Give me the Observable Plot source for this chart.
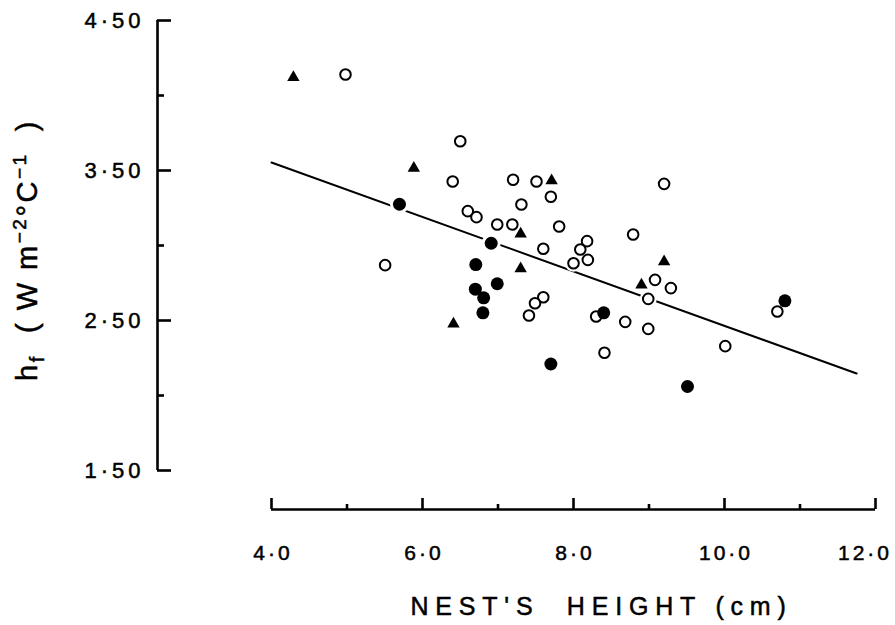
<!DOCTYPE html>
<html><head><meta charset="utf-8">
<script src="https://cdn.jsdelivr.net/npm/d3@7"></script>
<script src="https://cdn.jsdelivr.net/npm/@observablehq/plot@0.6"></script>
<style>
html,body{margin:0;padding:0;background:#fff;overflow:hidden}
svg{display:block}
</style>
</head><body><div id="chart"></div>
<script>
// ---- data ----
const openX = [4.98, 6.50, 6.40, 7.20, 7.51, 7.70, 7.31, 6.60, 6.715, 6.99, 7.19, 7.60, 5.505, 7.60, 7.49, 7.41,
               7.81, 8.18, 8.09, 8.19, 8.00, 8.79, 9.20, 9.08, 9.29, 8.99, 8.30, 8.685, 8.99, 8.41, 10.01, 10.70];
const openY = [4.14, 3.695, 3.427, 3.438, 3.427, 3.325, 3.273, 3.229, 3.189, 3.14, 3.14, 2.978, 2.869, 2.655, 2.615, 2.533,
               3.127, 3.029, 2.973, 2.904, 2.882, 3.073, 3.411, 2.771, 2.716, 2.644, 2.527, 2.491, 2.444, 2.285, 2.329, 2.56];
const filledX = [5.695, 6.91, 6.706, 6.70, 6.99, 6.81, 6.80, 7.70, 8.40, 9.51, 10.80];
const filledY = [3.275, 3.015, 2.873, 2.709, 2.745, 2.651, 2.551, 2.21, 2.551, 2.06, 2.631];
const triX = [4.29, 5.885, 7.71, 7.30, 7.30, 6.41, 9.20, 8.90];
const triY = [4.12, 3.515, 3.433, 3.078, 2.845, 2.478, 2.893, 2.738];
const fitX = [4.0, 11.75];
const fitY = [3.553, 2.147];

const yMajor = [1.5, 2.5, 3.5, 4.5];
const yMinor = [2, 3, 4];
const yTickLabels = ["1\u00B750", "2\u00B750", "3\u00B750", "4\u00B750"];
const xMajor = [4, 6, 8, 10, 12];
const xMinor = [5, 7, 9, 11];
const xTickLabels = ["4\u00B70", "6\u00B70", "8\u00B70", "10\u00B70", "12\u00B70"];
const xLabel = "NEST'S\u00A0\u00A0HEIGHT (cm)";
// y label pieces: normal, subscript, normal, superscript, normal, superscript, normal
const yLabelParts = ["h", "f", "\u00A0\u00A0(\u00A0W\u00A0m", "\u22122", "\u00B0C", "\u22121", "\u00A0\u00A0)"];
const yLabel = yLabelParts.join("");

// ---- layout ----
const W = 895, H = 625;
const mL = 157, mR = 20, mT = 20, mB = 116;
const insL = 114, insB = 39;
const FONT = "Liberation Sans, Arial, sans-serif";
const AXW = 2.6;

const pts = (xs, ys) => xs.map((x, i) => ({x, y: ys[i]}));
const openPts = pts(openX, openY);
const filledPts = pts(filledX, filledY);
const triPts = pts(triX, triY);
const fitPts = pts(fitX, fitY);

const chart = Plot.plot({
  width: W, height: H,
  marginLeft: mL, marginRight: mR, marginTop: mT, marginBottom: mB,
  x: {domain: [4, 12], insetLeft: insL},
  y: {domain: [1.5, 4.5], insetBottom: insB},
  style: {fontFamily: FONT, color: "black", background: "white"},
  marks: [
    // axis lines
    Plot.ruleX([4], {y1: 1.5, y2: 4.5, dx: -insL, strokeWidth: AXW, stroke: "black"}),
    Plot.ruleY([1.5], {x1: 4, x2: 12, dy: insB, strokeWidth: AXW, stroke: "black"}),
    // y ticks (inward)
    Plot.axisY({ticks: yMajor, tickSize: -14, text: null, label: null, strokeWidth: AXW}),
    Plot.axisY({ticks: yMinor, tickSize: -7, text: null, label: null, strokeWidth: AXW}),
    Plot.axisY({ticks: yMajor, tickSize: 0, tickPadding: 13, label: null, fontSize: 22,
                tickFormat: d => yTickLabels[yMajor.indexOf(d)]}),
    // x ticks (inward)
    Plot.axisX({ticks: xMajor, tickSize: -11, text: null, label: null, strokeWidth: AXW}),
    Plot.axisX({ticks: xMinor, tickSize: -5, text: null, label: null, strokeWidth: AXW}),
    Plot.axisX({ticks: xMajor, tickSize: 0, tickPadding: 36, label: null, fontSize: 21, dx: 1.5,
                lineAnchor: "top", tickFormat: d => xTickLabels[xMajor.indexOf(d)]}),
    // axis titles
    Plot.text([xLabel], {text: d => d, frameAnchor: "bottom", textAnchor: "middle", dx: 85, dy: 97,
                         lineAnchor: "middle", fontSize: 25}),
    Plot.text([yLabel], {text: d => d, frameAnchor: "left", textAnchor: "middle", dx: -130, dy: -15, rotate: -90,
                         lineAnchor: "middle", fontSize: 29}),
    // regression line
    Plot.line(fitPts, {x: "x", y: "y", stroke: "black", strokeWidth: 2}),
    // white halos
    Plot.dot(openPts, {x: "x", y: "y", r: 8.5, fill: "white"}),
    Plot.dot(filledPts, {x: "x", y: "y", r: 9.5, fill: "white"}),
    Plot.dot(triPts, {x: "x", y: "y", r: 7, symbol: "triangle", fill: "white"}),
    // markers
    Plot.dot(openPts, {x: "x", y: "y", r: 5.3, fill: "white", stroke: "black", strokeWidth: 2}),
    Plot.dot(filledPts, {x: "x", y: "y", r: 6.5, fill: "black"}),
    Plot.dot(triPts, {x: "x", y: "y", r: 4.6, symbol: "triangle", fill: "black"})
  ]
});

document.getElementById("chart").appendChild(chart);
const svg = d3.select(chart);
const texts = svg.selectAll("text");
// slightly heavier glyphs, like the printed original
texts.style("stroke", "black").style("stroke-width", "0.5px").style("paint-order", "fill");

texts.filter(function() { return yTickLabels.includes(this.textContent); })
     .style("font-size", "22px").style("letter-spacing", "4px");
const xt = texts.filter(function() { return xTickLabels.includes(this.textContent); })
     .style("font-size", "21px").style("letter-spacing", "3px");
// keep edge labels inside the page
xt.each(function() {
  const b = this.getBoundingClientRect();
  const over = b.right - (W - 3);
  if (over > 0) d3.select(this).attr("x", (+this.getAttribute("x") || 0) - over);
});
texts.filter(function() { return this.textContent === xLabel; })
     .style("font-size", "25px").style("letter-spacing", "6.8px");

// rich y label with sub/superscripts
const yt = texts.filter(function() { return this.textContent === yLabel; });
yt.text(null).style("font-size", "29px").style("letter-spacing", "2.5px");
const shifts = [0, 7, -7, -11, 11, -11, 11];
const sizes = [null, 20, null, 19, null, 19, null];
yLabelParts.forEach((p, i) => {
  const t = yt.append("tspan").attr("dy", shifts[i]).text(p);
  if (sizes[i]) t.attr("font-size", sizes[i]);
});
</script>
</body></html>
